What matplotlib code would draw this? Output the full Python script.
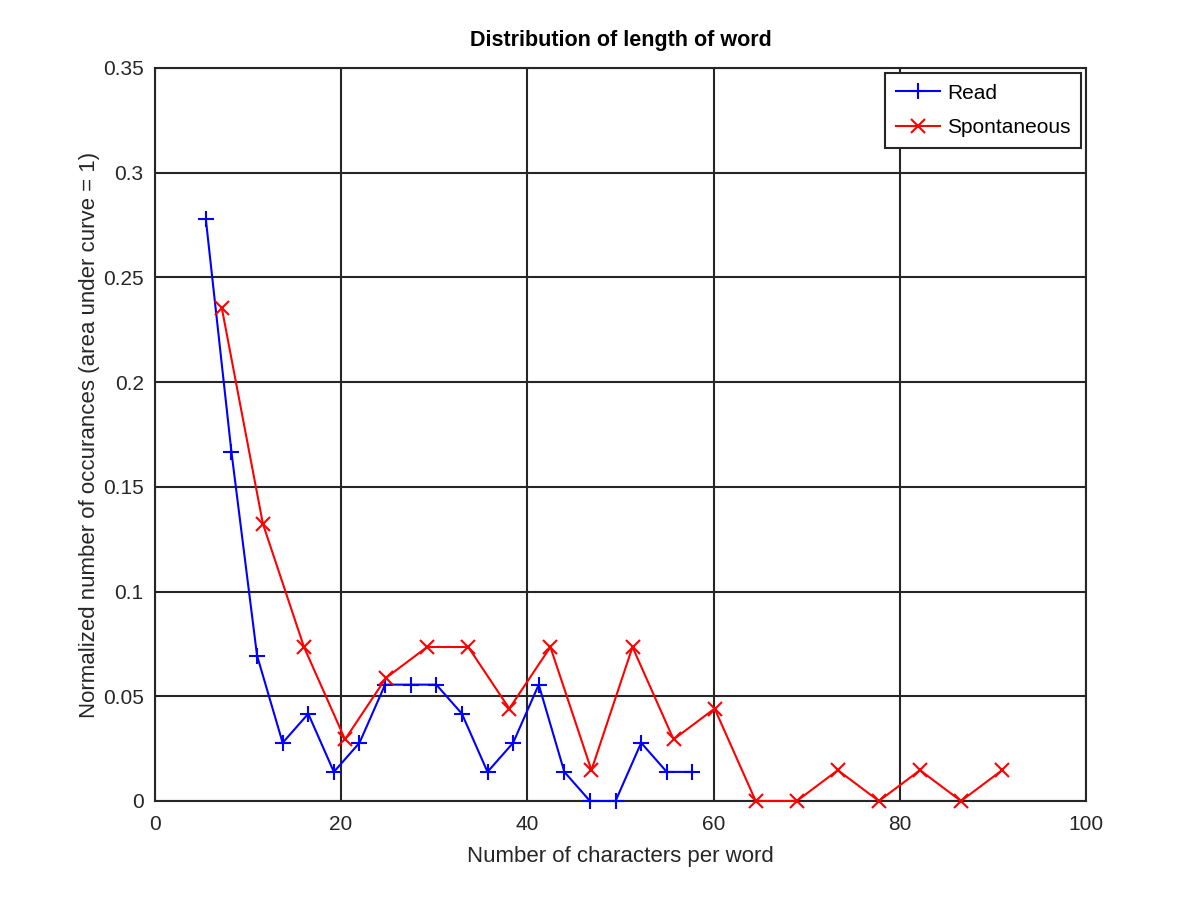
import matplotlib
matplotlib.use("Agg")
import matplotlib.pyplot as plt
import numpy as np

plt.rcParams["font.family"] = ["Liberation Sans", "DejaVu Sans"]

# Word length histograms (normalized)
read_x = 5.48 + 2.75 * np.arange(20)
read_y = np.array([20, 12, 5, 2, 3, 1, 2, 4, 4, 4, 3, 1, 2, 4, 1, 0, 0, 2, 1, 1]) / 72.0

spont_x = 7.2 + 4.41 * np.arange(20)
spont_y = np.array([16, 9, 5, 2, 4, 5, 5, 3, 5, 1, 5, 2, 3, 0, 0, 1, 0, 1, 0, 1]) / 68.0

fig = plt.figure(figsize=(12, 9), dpi=100)
ax = fig.add_axes([0.129, 0.11, 0.776, 0.8145])

ax.plot(read_x, read_y, color="#0000ff", marker="+", markersize=11, markeredgewidth=1.5,
        linewidth=1.5, label="Read", clip_on=False, zorder=3)
ax.plot(spont_x, spont_y, color="#ff0000", marker="x", markersize=10, markeredgewidth=1.5,
        linewidth=1.5, label="Spontaneous", clip_on=False, zorder=3)

ax.set_xlim(0, 100)
ax.set_ylim(0, 0.35)
ax.set_xticks(np.arange(0, 101, 20))
ax.set_yticks(np.arange(0, 0.351, 0.05))
ax.set_yticklabels(["0", "0.05", "0.1", "0.15", "0.2", "0.25", "0.3", "0.35"])
ax.grid(True, color="#262626", linewidth=1.5, linestyle="-")
ax.set_axisbelow(True)
for s in ax.spines.values():
    s.set_color("#262626")
    s.set_linewidth(1.5)
ax.tick_params(direction="in", length=6, width=1.2, color="#262626", labelsize=15,
               labelcolor="#262626", top=True, right=True)
ax.tick_params(axis="x", pad=10)
ax.tick_params(axis="y", pad=8)

ax.set_xlabel("Number of characters per word", fontsize=16, color="#262626", labelpad=9)
ax.set_ylabel("Normalized number of occurances (area under curve = 1)", fontsize=16,
              color="#262626", labelpad=2)
ax.set_title("Distribution of length of word", fontsize=15.5, fontweight="bold", pad=16)

leg = ax.legend(loc="upper right", fontsize=15, fancybox=False, framealpha=1,
                edgecolor="#262626", borderaxespad=0.25, handlelength=2.1,
                handletextpad=0.35, labelspacing=0.75, borderpad=0.5)
leg.get_frame().set_linewidth(1.5)

fig.savefig("out.png", dpi=100)
